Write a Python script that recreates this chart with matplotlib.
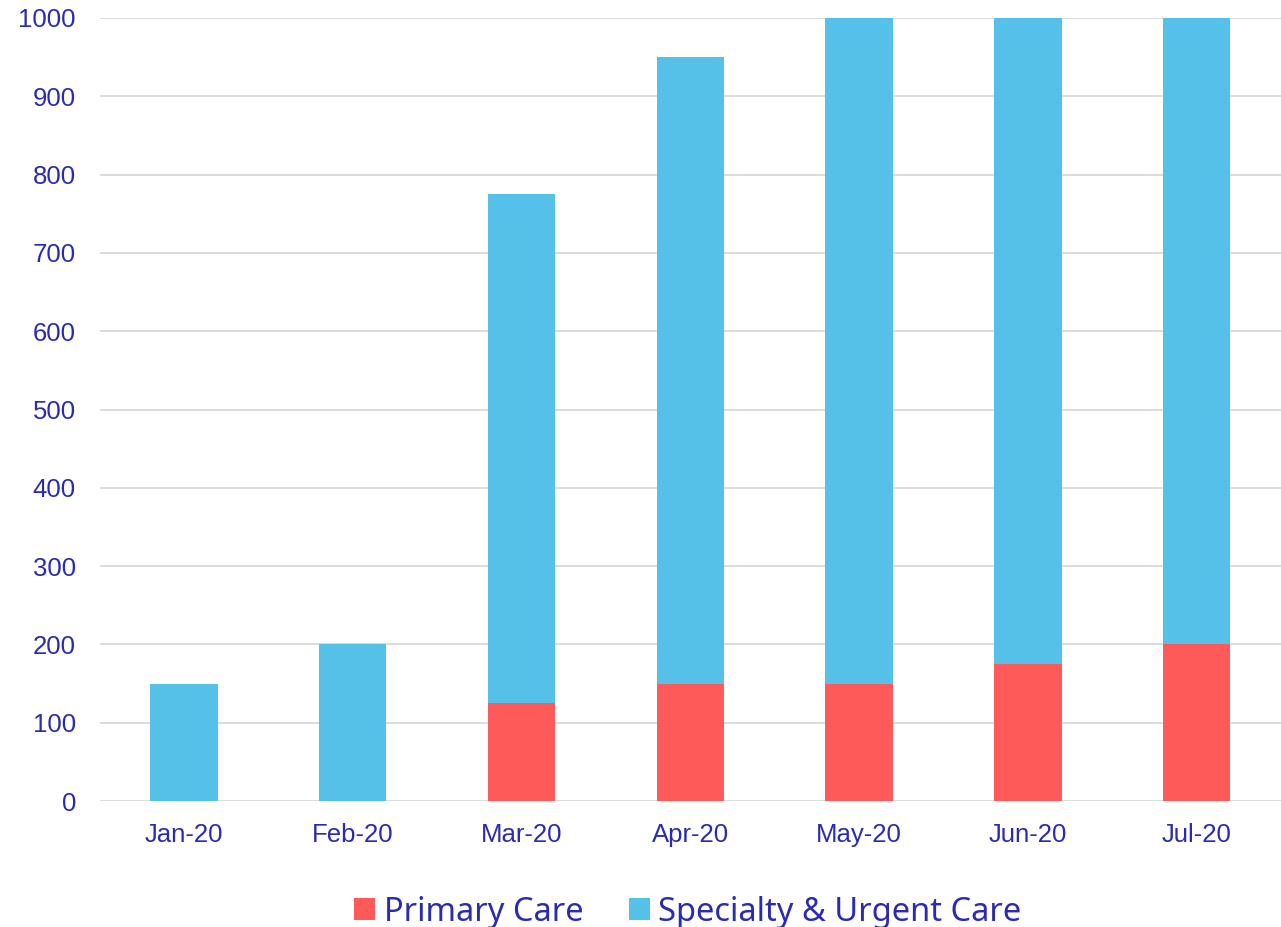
import matplotlib
matplotlib.use("Agg")
import matplotlib.pyplot as plt
import numpy as np

# data
months = ["Jan-20", "Feb-20", "Mar-20", "Apr-20", "May-20", "Jun-20", "Jul-20"]
primary_care = [0, 0, 125, 150, 150, 175, 200]
specialty_urgent = [150, 200, 650, 800, 850, 825, 800]

RED = "#FF5A5A"
BLUE = "#56C1E8"
TXT = "#2A2BB0"

fig = plt.figure(figsize=(12.81, 9.27), dpi=100)
ax = fig.add_axes([0.0777, 0.1359, 0.9223, 0.8447])

x = np.arange(len(months))
ax.bar(x, primary_care, width=0.4, color=RED, label="Primary Care", zorder=3)
ax.bar(x, specialty_urgent, width=0.4, bottom=primary_care, color=BLUE,
       label="Specialty & Urgent Care", zorder=3)

ax.set_xlim(-0.5, len(months) - 0.5)
ax.set_ylim(0, 1000)
ax.set_yticks(range(0, 1001, 100))
ax.set_xticks(x)
ax.set_xticklabels(months)

ax.yaxis.grid(True, color="#D9D9D9", linewidth=1.3, zorder=0)
ax.set_axisbelow(True)
for s in ax.spines.values():
    s.set_visible(False)
ax.tick_params(length=0, labelsize=18.5, labelcolor=TXT)
ax.tick_params(axis="x", pad=16)
ax.tick_params(axis="y", pad=17)
for lab in ax.get_xticklabels() + ax.get_yticklabels():
    lab.set_fontfamily("Liberation Sans")

leg = fig.legend(loc="center", bbox_to_anchor=(0.537, 0.016), ncol=2,
                 frameon=False, handlelength=0.65, handleheight=0.65,
                 handletextpad=0.25, columnspacing=1.4, borderpad=0,
                 prop={"family": "Noto Sans", "size": 23.5})
for t in leg.get_texts():
    t.set_color(TXT)

fig.savefig("out.png", dpi=100)
